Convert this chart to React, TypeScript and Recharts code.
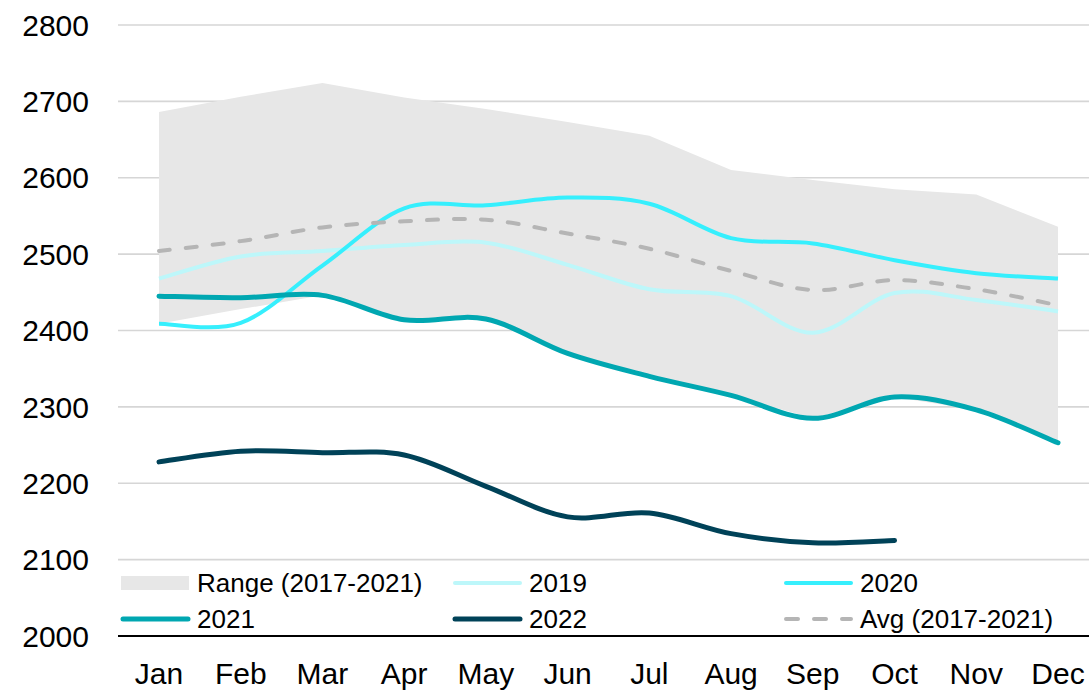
import React from "react";
import {
  ComposedChart,
  Area,
  Line,
  XAxis,
  YAxis,
  CartesianGrid,
  Legend,
} from "recharts";

// chart values
const months = ["Jan", "Feb", "Mar", "Apr", "May", "Jun", "Jul", "Aug", "Sep", "Oct", "Nov", "Dec"];
const rangeMin = [2409, 2428, 2446, 2414, 2415, 2370, 2340, 2315, 2285, 2313, 2296, 2253];
const rangeMax = [2686, 2706, 2724, 2705, 2690, 2673, 2655, 2610, 2597, 2585, 2578, 2536];
const v2019 = [2468, 2497, 2504, 2512, 2515, 2486, 2454, 2445, 2397, 2449, 2440, 2425];
const v2020 = [2409, 2410, 2485, 2560, 2564, 2574, 2566, 2521, 2514, 2492, 2475, 2468];
const v2021 = [2445, 2443, 2446, 2414, 2415, 2370, 2340, 2315, 2285, 2313, 2296, 2253];
const v2022 = [2228, 2242, 2240, 2237, 2196, 2156, 2161, 2134, 2122, 2125, null, null];
const avg = [2504, 2517, 2535, 2543, 2545, 2527, 2507, 2478, 2453, 2466, 2454, 2433];
const yTicks = [2000, 2100, 2200, 2300, 2400, 2500, 2600, 2700, 2800];

const FONT = '"Liberation Sans", Arial, sans-serif';

const COLORS = {
  range: "#E7E7E7",
  y2019: "#BDF7FA",
  y2020: "#36EFFD",
  y2021: "#00A7B1",
  y2022: "#004258",
  avg: "#B5B5B5",
  grid: "#D6D6D6",
};

const data = months.map((m, i) => ({
  month: m,
  range: [rangeMin[i], rangeMax[i]],
  y2019: v2019[i],
  y2020: v2020[i],
  y2021: v2021[i],
  y2022: v2022[i],
  avg: avg[i],
}));

// spreadsheet-style smoothing (Catmull-Rom through every point)
const smoothCurve = (ctx: any) => {
  let pts: [number, number][] = [];
  return {
    areaStart() {},
    areaEnd() {},
    lineStart() {
      pts = [];
    },
    point(x: number, y: number) {
      pts.push([+x, +y]);
    },
    lineEnd() {
      if (!pts.length) return;
      ctx.moveTo(pts[0][0], pts[0][1]);
      const n = pts.length;
      for (let i = 0; i < n - 1; i++) {
        const p0 = pts[Math.max(i - 1, 0)];
        const p1 = pts[i];
        const p2 = pts[i + 1];
        const p3 = pts[Math.min(i + 2, n - 1)];
        ctx.bezierCurveTo(
          p1[0] + (p2[0] - p0[0]) / 6,
          p1[1] + (p2[1] - p0[1]) / 6,
          p2[0] - (p3[0] - p1[0]) / 6,
          p2[1] - (p3[1] - p1[1]) / 6,
          p2[0],
          p2[1]
        );
      }
    },
  };
};

type LegendEntry = { label: string; color: string; kind: "box" | "line" | "dash"; width?: number };

const legendEntries: LegendEntry[] = [
  { label: "Range (2017-2021)", color: COLORS.range, kind: "box" },
  { label: "2019", color: COLORS.y2019, kind: "line", width: 4 },
  { label: "2020", color: COLORS.y2020, kind: "line", width: 4 },
  { label: "2021", color: COLORS.y2021, kind: "line", width: 5 },
  { label: "2022", color: COLORS.y2022, kind: "line", width: 5 },
  { label: "Avg (2017-2021)", color: COLORS.avg, kind: "dash", width: 4 },
];

const Swatch = ({ entry }: { entry: LegendEntry }) => (
  <svg width={72} height={16} style={{ display: "block" }}>
    {entry.kind === "box" ? (
      <rect x={1} y={1} width={68} height={14} fill={entry.color} />
    ) : (
      <line
        x1={3}
        x2={68}
        y1={8}
        y2={8}
        stroke={entry.color}
        strokeWidth={entry.width}
        strokeLinecap="round"
        strokeDasharray={entry.kind === "dash" ? "12 16" : undefined}
      />
    )}
  </svg>
);

const renderLegend = () => (
  <div
    style={{
      display: "grid",
      gridTemplateColumns: "332px 331px 300px",
      gridAutoRows: "36px",
      fontFamily: FONT,
      fontSize: 26,
      color: "#000",
    }}
  >
    {legendEntries.map((e) => (
      <div key={e.label} style={{ display: "flex", alignItems: "center" }}>
        <Swatch entry={e} />
        <span style={{ marginLeft: 5, lineHeight: "26px" }}>{e.label}</span>
      </div>
    ))}
  </div>
);

export default function App() {
  return (
    <div
      style={{
        position: "absolute",
        left: 0,
        top: 0,
        width: 1089,
        height: 691,
        overflow: "hidden",
        background: "#fff",
        fontFamily: FONT,
      }}
    >
      <ComposedChart
        width={1089}
        height={691}
        data={data}
        margin={{ top: 25, right: 0, bottom: 0, left: 0 }}
      >
        <CartesianGrid vertical={false} stroke={COLORS.grid} strokeWidth={1.6} />
        <XAxis
          dataKey="month"
          scale="point"
          padding={{ left: 41, right: 31 }}
          height={55}
          axisLine={{ stroke: "#000", strokeWidth: 2 }}
          tickLine={false}
          tickMargin={21}
          interval={0}
          tick={{ fill: "#000", fontSize: 30, fontFamily: FONT }}
        />
        <YAxis
          width={118}
          domain={[2000, 2800]}
          ticks={yTicks}
          axisLine={false}
          tickLine={false}
          tickMargin={23}
          tick={{ fill: "#000", fontSize: 30, fontFamily: FONT }}
        />
        <Area
          dataKey="range"
          type="linear"
          fill={COLORS.range}
          fillOpacity={1}
          stroke="none"
          isAnimationActive={false}
          activeDot={false}
        />
        <Line dataKey="y2019" type={smoothCurve as any} stroke={COLORS.y2019} strokeWidth={4} dot={false} isAnimationActive={false} />
        <Line dataKey="y2020" type={smoothCurve as any} stroke={COLORS.y2020} strokeWidth={4} dot={false} isAnimationActive={false} />
        <Line dataKey="y2021" type={smoothCurve as any} stroke={COLORS.y2021} strokeWidth={5} strokeLinecap="round" dot={false} isAnimationActive={false} />
        <Line dataKey="y2022" type={smoothCurve as any} stroke={COLORS.y2022} strokeWidth={5} strokeLinecap="round" dot={false} isAnimationActive={false} />
        <Line
          dataKey="avg"
          type={smoothCurve as any}
          stroke={COLORS.avg}
          strokeWidth={4}
          strokeDasharray="11 16"
          strokeLinecap="round"
          dot={false}
          isAnimationActive={false}
        />
        <Legend
          layout="vertical"
          align="center"
          verticalAlign="middle"
          content={renderLegend}
          wrapperStyle={{ left: 120, top: 565, width: 969 }}
        />
      </ComposedChart>
    </div>
  );
}
